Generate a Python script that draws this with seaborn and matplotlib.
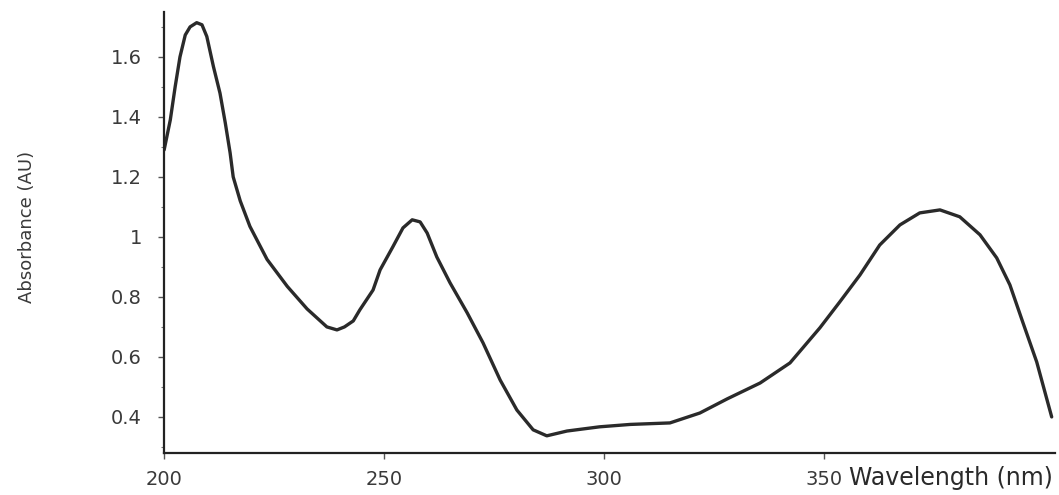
import matplotlib
matplotlib.use("Agg")
import matplotlib.pyplot as plt
import seaborn as sns
import pandas as pd
from matplotlib.ticker import MultipleLocator

# Data
wavelength = [200, 201.4, 202.5, 203.6, 204.8, 205.9, 207.4, 208.6, 209.7, 211.2,
              212.7, 213.9, 215, 215.7, 217.3, 219.5, 223.4, 228, 232.5, 237,
              239.3, 241, 243, 244.5, 247.5, 249.1, 252, 254.3, 256.4, 258.2,
              259.8, 262, 265, 268.9, 272.5, 276.4, 280.2, 283.9, 287, 291.6,
              299, 306, 315, 321.8, 328, 335.5, 342.3, 349.1, 353.6, 358.2,
              362.7, 367.3, 371.8, 376.4, 380.9, 385.5, 389.3, 392.3, 395.2,
              398.4, 401.8]
absorbance = [1.29, 1.39, 1.50, 1.60, 1.673, 1.70, 1.714, 1.707, 1.668, 1.568,
              1.479, 1.38, 1.28, 1.20, 1.12, 1.035, 0.925, 0.835, 0.76, 0.70,
              0.69, 0.70, 0.72, 0.757, 0.823, 0.89, 0.967, 1.03, 1.057, 1.05,
              1.013, 0.933, 0.847, 0.747, 0.647, 0.523, 0.423, 0.357, 0.337, 0.353,
              0.367, 0.375, 0.38, 0.413, 0.46, 0.513, 0.58, 0.697, 0.783, 0.873,
              0.973, 1.04, 1.08, 1.09, 1.067, 1.007, 0.93, 0.84, 0.717,
              0.583, 0.40]
x_ticks = [200, 250, 300, 350]
y_ticks = [0.4, 0.6, 0.8, 1.0, 1.2, 1.4, 1.6]
y_tick_labels = ["0.4", "0.6", "0.8", "1", "1.2", "1.4", "1.6"]

df = pd.DataFrame({"Wavelength (nm)": wavelength, "Absorbance (AU)": absorbance})

sns.set_style("ticks")
plt.rcParams["font.family"] = ["DejaVu Sans"]

fig = plt.figure(figsize=(10.59, 4.95), dpi=100)
ax = fig.add_axes([0.155, 0.085, 0.841, 0.891])

sns.lineplot(data=df, x="Wavelength (nm)", y="Absorbance (AU)", ax=ax,
             color="#2a2a2a", linewidth=2.4, sort=False)

ax.set_xlim(200, 402.5)
ax.set_ylim(0.28, 1.75)
ax.set_xticks(x_ticks)
ax.set_xticklabels([str(t) for t in x_ticks])
ax.set_yticks(y_ticks)
ax.set_yticklabels(y_tick_labels)
ax.yaxis.set_minor_locator(MultipleLocator(0.1))

for s in ["top", "right"]:
    ax.spines[s].set_visible(False)
for s in ["left", "bottom"]:
    ax.spines[s].set_color("#222222")
    ax.spines[s].set_linewidth(1.6)

ax.tick_params(axis="both", which="major", length=4, width=1, color="#555555",
               labelsize=14, labelcolor="#3a3a3a")
ax.tick_params(axis="y", which="major", pad=12)
ax.tick_params(axis="x", which="major", pad=8)
ax.tick_params(axis="y", which="minor", length=2.5, width=0.8, color="#777777")

ax.set_ylabel("Absorbance (AU)", fontsize=13, color="#3a3a3a")
ax.yaxis.label.set_verticalalignment("center")
ax.yaxis.set_label_coords(-0.154, 0.512)
ax.set_xlabel("Wavelength (nm)", fontsize=17, color="#2a2a2a")
ax.xaxis.label.set_verticalalignment("center")
ax.xaxis.set_label_coords(0.883, -0.057)

fig.savefig("out.png", dpi=100)
